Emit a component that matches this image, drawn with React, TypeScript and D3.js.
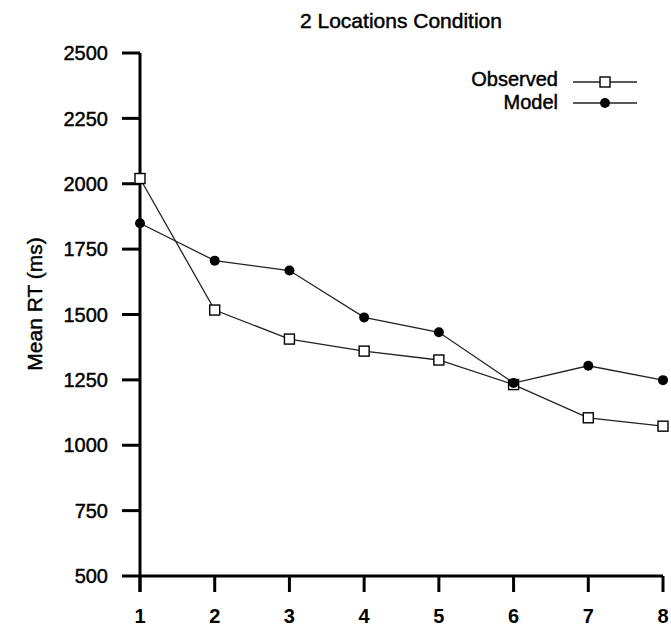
import React from "react";
import * as d3 from "d3";

// Serial position on the x axis and mean response times (ms)
const positions = [1, 2, 3, 4, 5, 6, 7, 8];
const observedRT = [2020, 1517, 1406, 1360, 1326, 1232, 1105, 1073];
const modelRT = [1849, 1706, 1668, 1489, 1432, 1238, 1304, 1249];
const yTicks = [500, 750, 1000, 1250, 1500, 1750, 2000, 2250, 2500];
const title = "2 Locations Condition";
const yLabel = "Mean RT (ms)";
const seriesNames = ["Observed", "Model"];

const W = 671;
const H = 626;
const FONT = "'Liberation Sans', Arial, Helvetica, sans-serif";

// slightly heavier glyphs for the plain labels
const heavy = { stroke: "#000", strokeWidth: 0.45 };

export default function App() {
  const x = d3.scaleLinear().domain([1, 8]).range([140, 663]);
  const y = d3.scaleLinear().domain([500, 2500]).range([576, 53]);

  const line = d3
    .line<number>()
    .x((_, i) => x(positions[i]))
    .y((d) => y(d));

  const sq = 10;
  const r = 5;

  return (
    <svg
      width={W}
      height={H}
      style={{ position: "absolute", left: 0, top: 0, background: "#fff" }}
      fontFamily={FONT}
    >
      <rect width={W} height={H} fill="#fff" />
      {/* title */}
      <text x={401} y={28} fontSize={21} textAnchor="middle" fill="#000" {...heavy}>
        {title}
      </text>

      {/* y axis */}
      <line x1={x(1)} x2={x(1)} y1={y(2500)} y2={y(500) + 16} stroke="#000" strokeWidth={3} />
      {yTicks.map((t) => (
        <g key={t}>
          <line x1={122} x2={x(1)} y1={y(t)} y2={y(t)} stroke="#000" strokeWidth={3} />
          <text x={108} y={y(t)} dy="0.36em" fontSize={20} textAnchor="end" fill="#000" {...heavy}>
            {t}
          </text>
        </g>
      ))}

      {/* x axis */}
      <line x1={x(1)} x2={x(8)} y1={y(500)} y2={y(500)} stroke="#000" strokeWidth={3} />
      {positions.map((p) => (
        <g key={p}>
          <line x1={x(p)} x2={x(p)} y1={y(500)} y2={y(500) + 16} stroke="#000" strokeWidth={3} />
          <text x={x(p)} y={623} fontSize={20} fontWeight="bold" textAnchor="middle" fill="#000">
            {p}
          </text>
        </g>
      ))}

      {/* y label */}
      <text
        transform={`translate(42,304) rotate(-90)`}
        fontSize={21}
        textAnchor="middle"
        fill="#000"
        {...heavy}
      >
        {yLabel}
      </text>

      {/* observed series */}
      <path d={line(observedRT) || ""} fill="none" stroke="#222" strokeWidth={1.3} />
      {observedRT.map((v, i) => (
        <rect
          key={i}
          x={x(positions[i]) - sq / 2}
          y={y(v) - sq / 2}
          width={sq}
          height={sq}
          fill="#fff"
          stroke="#000"
          strokeWidth={1.4}
        />
      ))}

      {/* model series */}
      <path d={line(modelRT) || ""} fill="none" stroke="#222" strokeWidth={1.3} />
      {modelRT.map((v, i) => (
        <circle key={i} cx={x(positions[i])} cy={y(v)} r={r} fill="#000" />
      ))}

      {/* legend */}
      <g>
        <text x={558} y={86} fontSize={20} textAnchor="end" fill="#000" {...heavy}>
          {seriesNames[0]}
        </text>
        <line x1={573} x2={637} y1={82} y2={82} stroke="#222" strokeWidth={1.3} />
        <rect x={605 - sq / 2} y={82 - sq / 2} width={sq} height={sq} fill="#fff" stroke="#000" strokeWidth={1.4} />
        <text x={558} y={109} fontSize={20} textAnchor="end" fill="#000" {...heavy}>
          {seriesNames[1]}
        </text>
        <line x1={573} x2={637} y1={103} y2={103} stroke="#222" strokeWidth={1.3} />
        <circle cx={605} cy={103} r={r} fill="#000" />
      </g>
    </svg>
  );
}
